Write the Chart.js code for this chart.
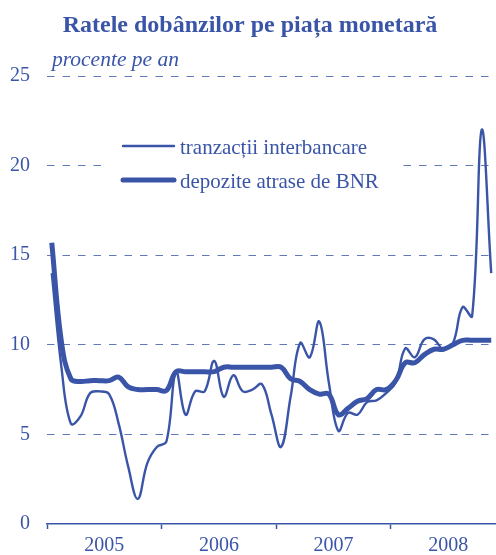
<!DOCTYPE html>
<html>
<head>
<meta charset="utf-8">
<script src="https://cdn.jsdelivr.net/npm/chart.js@4"></script>
<style>
html, body { margin: 0; padding: 0; background: #fff; }
canvas { display: block; }
</style>
</head>
<body>
<canvas id="graph-canvas" width="496" height="555"></canvas>
<script>
const years = ["2005", "2006", "2007", "2008"];
const months = [
    "ian 2005","feb 2005","mar 2005","apr 2005","mai 2005","iun 2005","iul 2005","aug 2005","sep 2005","oct 2005","nov 2005","dec 2005",
    "ian 2006","feb 2006","mar 2006","apr 2006","mai 2006","iun 2006","iul 2006","aug 2006","sep 2006","oct 2006","nov 2006","dec 2006",
    "ian 2007","feb 2007","mar 2007","apr 2007","mai 2007","iun 2007","iul 2007","aug 2007","sep 2007","oct 2007","nov 2007","dec 2007",
    "ian 2008","feb 2008","mar 2008","apr 2008","mai 2008","iun 2008","iul 2008","aug 2008","sep 2008","oct 2008","nov 2008"
];
// tranzactii interbancare
const interbank = [
    14.0, 8.8, 5.6, 6.0, 7.3, 7.4, 7.25, 5.6, 3.2, 1.4, 3.4, 4.3,
    4.6, 8.5, 6.1, 7.4, 7.4, 9.1, 7.1, 8.3, 7.4, 7.5, 7.8, 6.1,
    4.3, 7.1, 10.1, 9.3, 11.3, 7.9, 5.2, 6.2, 6.1, 6.8, 6.9, 7.3,
    7.9, 9.8, 9.3, 10.3, 10.3, 9.75, 10.1, 12.1, 11.6, 22.0, 14.0
];
// depozite atrase de BNR
const bnrDeposits = [
    15.7, 10.2, 8.1, 7.95, 8.0, 8.0, 8.0, 8.2, 7.65, 7.5, 7.5, 7.5,
    7.45, 8.5, 8.5, 8.5, 8.5, 8.5, 8.75, 8.75, 8.75, 8.75, 8.75, 8.75,
    8.75, 8.1, 7.95, 7.5, 7.25, 7.25, 6.1, 6.45, 6.85, 7.0, 7.5, 7.5,
    8.0, 9.0, 9.0, 9.45, 9.75, 9.75, 10.0, 10.25, 10.25, 10.25, 10.25
];
const seriesNames = ["tranzacții interbancare", "depozite atrase de BNR"];

const blue = '#3a55a7';
const gridBlue = '#6178bb';
const serif = '"Liberation Serif", "DejaVu Serif", serif';

function toPoints(values)
{
    // each month sits in the middle of its slot
    return values.map((v, i) => ({ x: i + 0.5, y: v }));
}

const textPlugin = {
    id: 'texts',
    beforeDatasetsDraw(chart)
    {
        const c = chart.ctx;
        c.save();
        // legend box
        c.fillStyle = '#fff';
        c.fillRect(103, 128, 295, 70);
        const rows = [146, 180];
        c.font = '21px ' + serif;
        c.textBaseline = 'middle';
        c.textAlign = 'left';
        chart.data.datasets.forEach((ds, i) =>
        {
            c.strokeStyle = ds.borderColor;
            c.lineWidth = ds.borderWidth;
            c.lineCap = 'round';
            c.beginPath();
            c.moveTo(123, rows[i]);
            c.lineTo(174, rows[i]);
            c.stroke();
            c.fillStyle = blue;
            c.fillText(ds.label, 180, rows[i] + 2);
        });
        c.restore();
    },
    afterDraw(chart)
    {
        const c = chart.ctx;
        c.save();
        c.fillStyle = blue;
        c.textBaseline = 'alphabetic';
        c.textAlign = 'center';
        c.font = 'bold 24px ' + serif;
        c.fillText('Ratele dobânzilor pe piața monetară', 250, 32);
        c.textAlign = 'left';
        c.font = 'italic 21.5px ' + serif;
        c.fillText('procente pe an', 52, 66);
        c.restore();
    }
};

const ctx = document.getElementById('graph-canvas');
var chart = new Chart(ctx,
    {
    type: 'line',
    data:
    {
        labels: months,
        datasets:
        [{
            label: seriesNames[0],
            data: toPoints(interbank),
            borderColor: blue,
            borderWidth: 2.4,
            pointRadius: 0,
            tension: 0.4,
            fill: false
        },
        {
            label: seriesNames[1],
            data: toPoints(bnrDeposits),
            borderColor: blue,
            borderWidth: 5,
            pointRadius: 0,
            tension: 0.4,
            fill: false
        }]
    },
    options:
    {
        responsive: false,
        devicePixelRatio: 1,
        animation: false,
        layout: { padding: { top: 76, left: 0, right: 0, bottom: 0 } },
        plugins:
        {
            legend: { display: false },
            tooltip: { enabled: false }
        },
        scales:
        {
            x:
            {
                type: 'linear',
                min: 0,
                // the picture is cut off just before the end of December 2008
                max: 47,
                afterBuildTicks: (axis) =>
                {
                    const t = [];
                    for (var v = 0; v <= 47; v += 6) t.push({ value: v });
                    axis.ticks = t;
                },
                afterFit: (axis) =>
                {
                    axis.height = 31;
                    axis.paddingLeft = 0;
                    axis.paddingRight = 0;
                },
                ticks:
                {
                    autoSkip: false,
                    maxRotation: 0,
                    padding: 5,
                    color: blue,
                    font: { family: serif, size: 20 },
                    callback: (v) => (v % 12 === 6 ? years[(v - 6) / 12] : '')
                },
                grid:
                {
                    drawOnChartArea: false,
                    tickLength: 5,
                    tickWidth: 1.5,
                    tickColor: (c) => (c.tick && c.tick.value % 12 === 0 ? blue : 'rgba(0,0,0,0)')
                },
                border: { display: true, color: blue, width: 1.5 }
            },
            y:
            {
                min: 0,
                max: 25,
                afterFit: (axis) => { axis.width = 47; },
                ticks:
                {
                    stepSize: 5,
                    padding: 17,
                    color: blue,
                    font: { family: serif, size: 20 }
                },
                grid:
                {
                    drawTicks: false,
                    lineWidth: 1,
                    color: (c) => (c.tick && c.tick.value === 0 ? 'rgba(0,0,0,0)' : gridBlue)
                },
                border: { display: false, dash: [7.5, 8] }
            }
        }
    },
    plugins: [textPlugin]
});
</script>
</body>
</html>
